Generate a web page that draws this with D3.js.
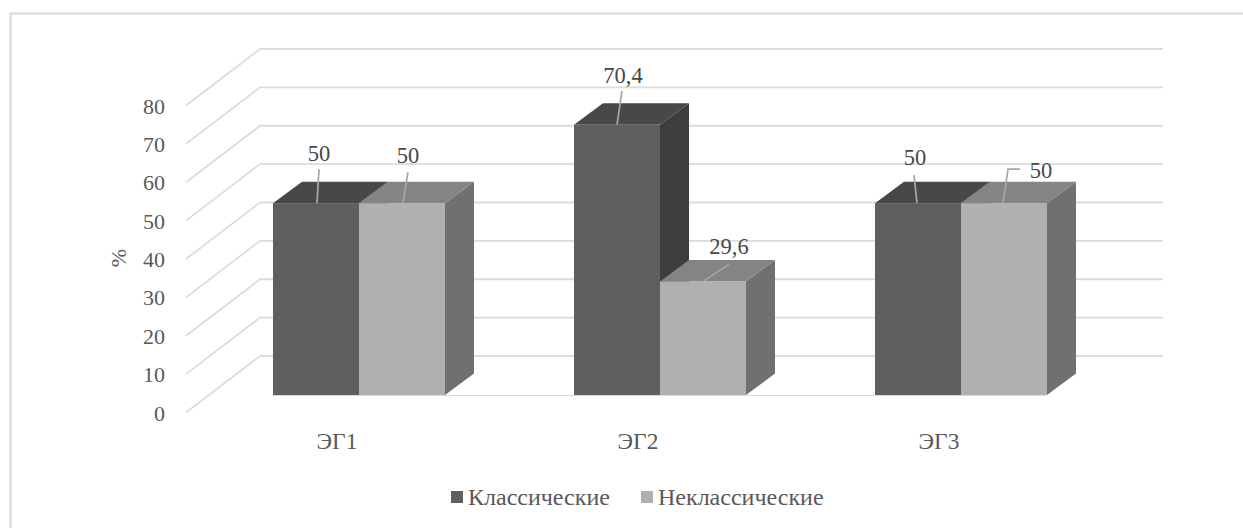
<!DOCTYPE html>
<html><head><meta charset="utf-8">
<script src="https://cdn.jsdelivr.net/npm/d3@7"></script>
<style>html,body{margin:0;background:#fff}svg{display:block}</style>
</head><body><svg id="c" width="1243" height="528"></svg>
<script>
const categories=["ЭГ1","ЭГ2","ЭГ3"];
const seriesNames=["Классические","Неклассические"];
const classic=[50,70.4,50];
const nonclassic=[50,29.6,50];
const classicLabels=["50","70,4","50"];
const nonclassicLabels=["50","29,6","50"];
const yTicks=[0,10,20,30,40,50,60,70,80];
const SERIF='"Liberation Serif"';
const TEXT="#595959";

const svg=d3.select("#c");
function label(xp,yp,str,size,anchor,color){
  return svg.append("text").attr("x",xp).attr("y",yp).attr("font-family",SERIF).attr("font-size",size)
    .attr("text-anchor",anchor).attr("fill",color||TEXT).text(str);
}
// chart frame: the right and bottom edges run off the picture
svg.append("rect").attr("x",10.5).attr("y",13.5).attr("width",1300).attr("height",600).attr("fill","#fff").attr("stroke","#dedede").attr("stroke-width",2.4);

const y=d3.scaleLinear().domain([0,80]).range([395,88]);
const x=d3.scaleBand().domain(categories).range([208.5,1111.5]);
const inner=d3.scaleBand().domain([0,1]).range([0,172]);
const barOffset=d=>x(d)+(x.bandwidth()-172)/2;
const wallDx=74, wallFront=186, backShift=39, frontDrop=56.5;
const depthDx=29, depthDy=21.5;

const grid=svg.append("g").attr("fill","none").attr("stroke","#dcdcdc").attr("stroke-width",1.8);
yTicks.forEach(t=>{
  const yb=y(t)-backShift;
  grid.append("path").attr("d",`M${wallFront},${yb+frontDrop}L${wallFront+wallDx},${yb}L1163,${yb}`);
  label(165,yb+frontDrop+8,t,22,"end");
});
svg.append("line").attr("x1",273).attr("x2",1046).attr("y1",395.5).attr("y2",395.5).attr("stroke","#d9d9d9").attr("stroke-width",1.2);

label(0,0,"%",22,"middle").attr("transform","translate(126,258) rotate(-90)");

const seriesStyles=[
 {front:"#5f5f5f",top:"#484848",side:"#3d3d3d"},
 {front:"#b0b0b0",top:"#848484",side:"#707070"}
];
const vals=[classic,nonclassic];
function bar(cat,i,sIdx){
  const s=seriesStyles[sIdx], v=vals[sIdx][i];
  const x0=barOffset(cat)+inner(sIdx), w=inner.bandwidth(), yt=y(v), yb=y(0);
  const g=svg.append("g");
  g.append("polygon").attr("fill",s.side).attr("points",`${x0+w},${yt} ${x0+w+depthDx},${yt-depthDy} ${x0+w+depthDx},${yb-depthDy} ${x0+w},${yb}`);
  g.append("polygon").attr("fill",s.top).attr("points",`${x0},${yt} ${x0+depthDx},${yt-depthDy} ${x0+w+depthDx},${yt-depthDy} ${x0+w},${yt}`);
  g.append("rect").attr("x",x0).attr("y",yt).attr("width",w).attr("height",yb-yt).attr("fill",s.front);
}
categories.forEach((c,i)=>{bar(c,i,0);});
categories.forEach((c,i)=>{bar(c,i,1);});

categories.forEach(c=>{
  label(barOffset(c)+64,449,c,23.5,"middle");
});

const labelOffsets=[
 [{tx:46,ty:-42,l:[[44,0],[46,-34]]},{tx:49,ty:-40,l:[[44,0],[49,-31]]}],
 [{tx:49,ty:-42,l:[[43,0],[48,-34]]},{tx:69,ty:-27,l:[[43,0],[69,-17]]}],
 [{tx:40,ty:-38,l:[[42,0],[39,-28]]},{tx:80,ty:-25,l:[[42,0],[47,-34],[59,-34]]}]
];
categories.forEach((c,i)=>{
 [0,1].forEach(sIdx=>{
   const o=labelOffsets[i][sIdx];
   const x0=barOffset(c)+inner(sIdx), yt=y(vals[sIdx][i]);
   svg.append("path").attr("fill","none").attr("stroke","#a6a6a6").attr("stroke-width",1.7)
     .attr("d",d3.line().x(p=>x0+p[0]).y(p=>yt+p[1])(o.l));
   label(x0+o.tx,yt+o.ty,(sIdx?nonclassicLabels:classicLabels)[i],22.5,"middle","#484848");
 });
});

const legendX=[451,641];
seriesNames.forEach((n,i)=>{
  svg.append("rect").attr("x",legendX[i]).attr("y",491).attr("width",12).attr("height",12).attr("fill",seriesStyles[i].front);
  label(legendX[i]+17,505,n,24,"start");
});
</script></body></html>
